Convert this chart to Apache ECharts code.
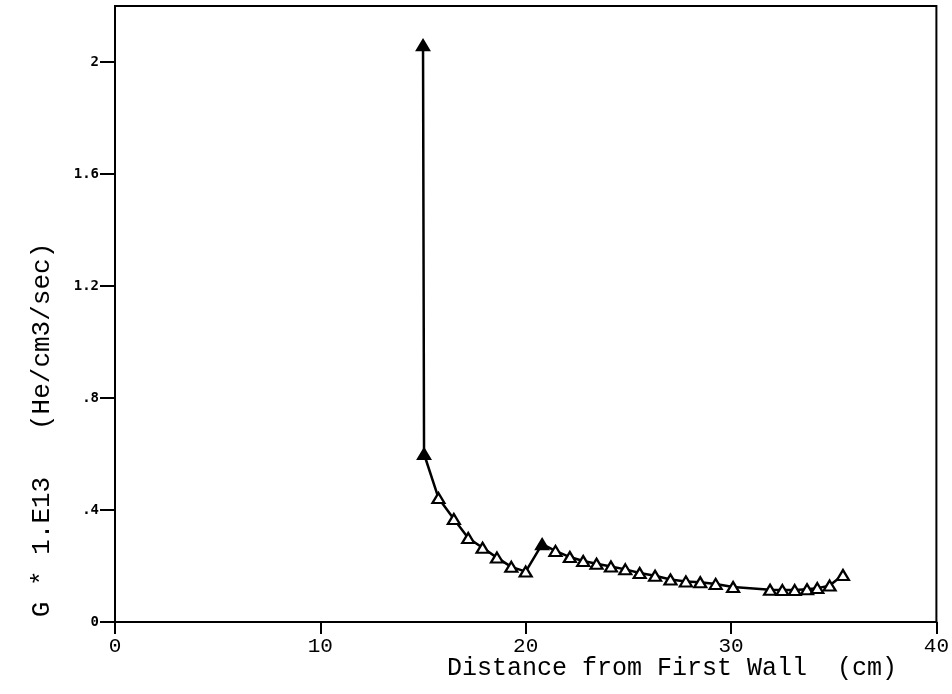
<!DOCTYPE html>
<html>
<head>
<meta charset="utf-8">
<script src="https://cdn.jsdelivr.net/npm/echarts@6/dist/echarts.min.js"></script>
<style>
  html, body { margin: 0; padding: 0; background: #fff; }
  #chart { width: 952px; height: 694px; }
</style>
</head>
<body>
<div id="chart"></div>
<script>
// Helium generation rate versus distance from the first wall
const distanceCm = [15.0, 15.05, 15.75, 16.5, 17.2, 17.9, 18.6, 19.3, 20.0,
  20.8, 21.45, 22.15, 22.8, 23.45, 24.15, 24.85, 25.55, 26.3, 27.05, 27.8,
  28.5, 29.25, 30.1, 31.9, 32.5, 33.1, 33.7, 34.2, 34.8, 35.45];
const heliumRate = [2.06, 0.60, 0.443, 0.368, 0.30, 0.265, 0.23, 0.197, 0.18,
  0.278, 0.254, 0.232, 0.218, 0.208, 0.198, 0.188, 0.175, 0.165, 0.152, 0.145,
  0.142, 0.136, 0.125, 0.115, 0.114, 0.114, 0.117, 0.121, 0.13, 0.168];
// points plotted with a solid triangle
const solidPoints = [0, 1, 9];

const xTicks = [0, 10, 20, 30, 40];
const yTicks = [0, 0.4, 0.8, 1.2, 1.6, 2.0];

const xTitle = 'Distance from First Wall  (cm)';
const yTitle = 'G * 1.E13   (He/cm3/sec)';

const seriesData = distanceCm.map((x, i) => {
  const item = { value: [x, heliumRate[i]] };
  if (solidPoints.includes(i)) item.itemStyle = { color: '#000' };
  return item;
});

const chart = echarts.init(document.getElementById('chart'), null, { renderer: 'canvas' });

chart.setOption({
  backgroundColor: '#fff',
  animation: false,
  grid: {
    left: 115, right: 12, top: 6, bottom: 72,
    show: true, borderColor: '#000', borderWidth: 2, backgroundColor: 'transparent'
  },
  xAxis: {
    type: 'value', min: xTicks[0], max: xTicks[xTicks.length - 1], interval: 10,
    axisLine: { show: true, lineStyle: { color: '#000', width: 2 } },
    axisTick: { show: true, inside: false, length: 12, lineStyle: { color: '#000', width: 2 } },
    axisLabel: {
      color: '#000', fontFamily: 'Liberation Mono', fontSize: 21, margin: 14,
      formatter: v => String(v)
    },
    splitLine: { show: false }
  },
  yAxis: {
    type: 'value', min: 0, max: 2.2, interval: 0.4,
    axisLine: { show: true, lineStyle: { color: '#000', width: 2 } },
    axisTick: { show: true, inside: false, length: 15, lineStyle: { color: '#000', width: 2 }, customValues: yTicks },
    axisLabel: {
      customValues: yTicks,
      color: '#000', fontFamily: 'DejaVu Sans Mono', fontWeight: 'bold', fontSize: 14, margin: 16,
      formatter: v => {
        const s = String(Math.round(v * 10) / 10);
        return s.startsWith('0.') ? s.slice(1) : s;
      }
    },
    splitLine: { show: false }
  },
  series: [{
    type: 'line',
    data: seriesData,
    symbol: 'triangle',
    symbolSize: [12, 10],
    showAllSymbol: true,
    lineStyle: { color: '#000', width: 2.5 },
    itemStyle: { color: '#fff', borderColor: '#000', borderWidth: 2.2 },
    z: 3
  }],
  graphic: [
    {
      type: 'text',
      x: 672, y: 668,
      style: {
        text: xTitle, fill: '#000',
        font: '25px "Liberation Mono"',
        align: 'center', verticalAlign: 'middle'
      }
    },
    {
      type: 'text',
      x: 42, y: 430,
      rotation: Math.PI / 2,
      style: {
        text: yTitle, fill: '#000',
        font: '26px "Liberation Mono"',
        align: 'center', verticalAlign: 'middle'
      }
    }
  ]
});
</script>
</body>
</html>
